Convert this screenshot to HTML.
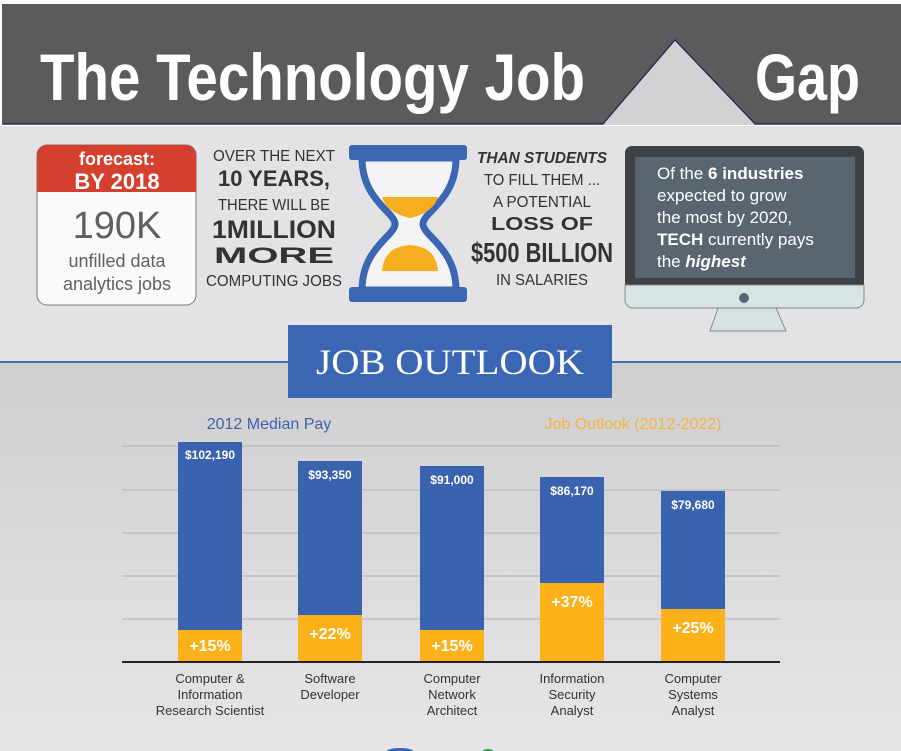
<!DOCTYPE html>
<html><head><meta charset="utf-8"><style>
html,body{margin:0;padding:0;background:#fff}
svg{display:block}
text{font-family:"Liberation Sans",sans-serif}
</style></head><body>
<svg width="901" height="751" viewBox="0 0 901 751" xmlns="http://www.w3.org/2000/svg">
<defs>
<linearGradient id="bg2" x1="0" y1="0" x2="0" y2="1"><stop offset="0" stop-color="#cfcfd1"/><stop offset="1" stop-color="#e6e6e8"/></linearGradient>
</defs>
<rect x="0" y="0" width="901" height="751" fill="#fff"/>
<rect x="0" y="126" width="901" height="237" fill="#e3e3e5"/>
<rect x="0" y="363" width="901" height="388" fill="url(#bg2)"/>
<polygon points="2,4 901,4 901,124 755,124 675,40 603,124 2,124" fill="#5b5b5d"/>
<polyline points="2,124 603,124 675,40 755,124 901,124" fill="none" stroke="#2a2a55" stroke-width="1.5"/>
<polygon points="603,125 675,41 755,125" fill="#d2d2d4"/>
<text x="40" y="100" font-size="66" font-weight="bold" fill="#fff" textLength="545" lengthAdjust="spacingAndGlyphs">The Technology Job</text>
<text x="755" y="100" font-size="66" font-weight="bold" fill="#fff" textLength="105" lengthAdjust="spacingAndGlyphs">Gap</text>
<rect x="37" y="145" width="159" height="160" rx="10" fill="#fafafa" stroke="#777" stroke-width="1"/>
<path d="M37,192 V155 a10,10 0 0 1 10,-10 H186 a10,10 0 0 1 10,10 V192 Z" fill="#d43f2e"/>
<text x="117" y="165" font-size="18" font-weight="bold" fill="#fff" text-anchor="middle">forecast:</text>
<text x="117" y="189" font-size="22" font-weight="bold" fill="#fff" text-anchor="middle">BY 2018</text>
<text x="117" y="238" font-size="38" fill="#5f6062" text-anchor="middle">190K</text>
<text x="117" y="267" font-size="18" fill="#5f6062" text-anchor="middle">unfilled data</text>
<text x="117" y="290" font-size="18" fill="#5f6062" text-anchor="middle">analytics jobs</text>
<g fill="#333" text-anchor="middle">
<text x="274" y="161" font-size="16" textLength="122" lengthAdjust="spacingAndGlyphs">OVER THE NEXT</text>
<text x="274" y="186" font-size="22" font-weight="bold" textLength="112" lengthAdjust="spacingAndGlyphs">10 YEARS,</text>
<text x="274" y="210" font-size="16" textLength="112" lengthAdjust="spacingAndGlyphs">THERE WILL BE</text>
<text x="274" y="238" font-size="25" font-weight="bold" textLength="124" lengthAdjust="spacingAndGlyphs">1MILLION</text>
<text x="274" y="263" font-size="22" font-weight="bold" textLength="120" lengthAdjust="spacingAndGlyphs">MORE</text>
<text x="274" y="286" font-size="16" textLength="136" lengthAdjust="spacingAndGlyphs">COMPUTING JOBS</text>
</g>
<path d="M362,158 C362,200 395,212 395,224 C395,236 362,248 362,290 L456,290 C456,248 423,236 423,224 C423,212 456,200 456,158 Z" fill="#f4f4f6" stroke="#3a66b4" stroke-width="7"/>
<path d="M382,197 L438,197 C434,210 420,216 410,218 C400,216 386,210 382,197 Z" fill="#f5ae1d"/>
<path d="M382,271 C384,250 398,246 410,245 C422,246 436,250 438,271 Z" fill="#f5ae1d"/>
<rect x="349" y="145" width="118" height="15" rx="3" fill="#3a66b4"/>
<rect x="349" y="287" width="118" height="15" rx="3" fill="#3a66b4"/>
<g fill="#333" text-anchor="middle">
<text x="542" y="163" font-size="16" font-weight="bold" font-style="italic" textLength="130" lengthAdjust="spacingAndGlyphs">THAN STUDENTS</text>
<text x="542" y="185" font-size="16" textLength="116" lengthAdjust="spacingAndGlyphs">TO FILL THEM ...</text>
<text x="542" y="207" font-size="16" textLength="98" lengthAdjust="spacingAndGlyphs">A POTENTIAL</text>
<text x="542" y="230" font-size="18" font-weight="bold" textLength="102" lengthAdjust="spacingAndGlyphs">LOSS OF</text>
<text x="542" y="262" font-size="28" font-weight="bold" textLength="142" lengthAdjust="spacingAndGlyphs">$500 BILLION</text>
<text x="542" y="285" font-size="16" textLength="92" lengthAdjust="spacingAndGlyphs">IN SALARIES</text>
</g>
<path d="M718,308 L710,331 L786,331 L776,308 Z" fill="#d6e2e2" stroke="#888" stroke-width="1"/>
<rect x="625" y="146" width="239" height="144" rx="7" fill="#3f4244"/>
<path d="M625,285 H864 V300 a8,8 0 0 1 -8,8 H633 a8,8 0 0 1 -8,-8 Z" fill="#d7e4e4" stroke="#888" stroke-width="1"/>
<rect x="635" y="157" width="220" height="121" fill="#596570"/>
<circle cx="744" cy="298" r="5" fill="#5a6470"/>
<g fill="#fff" font-size="17">
<text x="657" y="179">Of the <tspan font-weight="bold">6 industries</tspan></text>
<text x="657" y="201">expected to grow</text>
<text x="657" y="223">the most by 2020,</text>
<text x="657" y="245"><tspan font-weight="bold">TECH</tspan> currently pays</text>
<text x="657" y="267">the <tspan font-weight="bold" font-style="italic">highest</tspan></text>
</g>
<line x1="0" y1="362" x2="901" y2="362" stroke="#4a6fb0" stroke-width="2"/>
<rect x="288" y="325" width="324" height="73" fill="#3a66b4"/>
<text x="450" y="374" font-size="36" fill="#fff" text-anchor="middle" style="font-family:'Liberation Serif',serif" textLength="268" lengthAdjust="spacingAndGlyphs">JOB OUTLOOK</text>
<text x="269" y="429" font-size="16" fill="#3f63a8" text-anchor="middle">2012 Median Pay</text>
<text x="633" y="429" font-size="16" fill="#f0b43a" text-anchor="middle">Job Outlook (2012-2022)</text>
<g stroke="#bdbdbf" stroke-width="1.5">
<line x1="122" y1="446" x2="780" y2="446"/>
<line x1="122" y1="490" x2="780" y2="490"/>
<line x1="122" y1="533" x2="780" y2="533"/>
<line x1="122" y1="576" x2="780" y2="576"/>
<line x1="122" y1="619" x2="780" y2="619"/>
</g>
<g>
<rect x="178" y="442" width="64" height="220" fill="#3a63af"/><rect x="178" y="630" width="64" height="32" fill="#fbb117"/>
<rect x="298" y="461" width="64" height="201" fill="#3a63af"/><rect x="298" y="615" width="64" height="47" fill="#fbb117"/>
<rect x="420" y="466" width="64" height="196" fill="#3a63af"/><rect x="420" y="630" width="64" height="32" fill="#fbb117"/>
<rect x="540" y="477" width="64" height="185" fill="#3a63af"/><rect x="540" y="583" width="64" height="79" fill="#fbb117"/>
<rect x="661" y="491" width="64" height="171" fill="#3a63af"/><rect x="661" y="609" width="64" height="53" fill="#fbb117"/>
</g>
<line x1="122" y1="662" x2="780" y2="662" stroke="#222" stroke-width="2"/>
<g fill="#fff" font-weight="bold" text-anchor="middle" font-size="12">
<text x="210" y="459">$102,190</text>
<text x="330" y="479">$93,350</text>
<text x="452" y="484">$91,000</text>
<text x="572" y="495">$86,170</text>
<text x="693" y="509">$79,680</text>
</g>
<g fill="#fff" font-weight="bold" text-anchor="middle" font-size="16">
<text x="210" y="651">+15%</text>
<text x="330" y="639">+22%</text>
<text x="452" y="651">+15%</text>
<text x="572" y="607">+37%</text>
<text x="693" y="633">+25%</text>
</g>
<g fill="#333" text-anchor="middle" font-size="13">
<text x="210" y="683">Computer &amp;</text><text x="210" y="699">Information</text><text x="210" y="715">Research Scientist</text>
<text x="330" y="683">Software</text><text x="330" y="699">Developer</text>
<text x="452" y="683">Computer</text><text x="452" y="699">Network</text><text x="452" y="715">Architect</text>
<text x="572" y="683">Information</text><text x="572" y="699">Security</text><text x="572" y="715">Analyst</text>
<text x="693" y="683">Computer</text><text x="693" y="699">Systems</text><text x="693" y="715">Analyst</text>
</g>
<ellipse cx="400" cy="752" rx="14" ry="4" fill="#3a63af"/>
<ellipse cx="488" cy="752" rx="6" ry="3" fill="#3a9a5a"/>
</svg>
</body></html>
